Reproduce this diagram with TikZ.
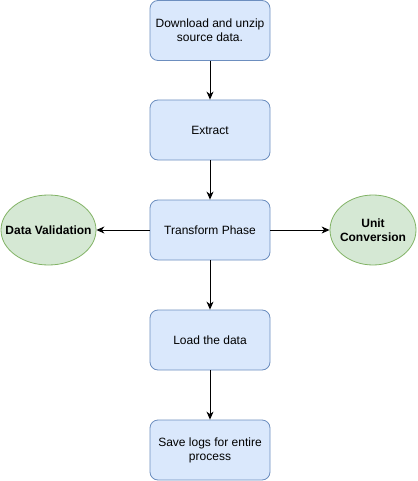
\documentclass[tikz,border=0pt]{standalone}
\usepackage{fontspec}
\setmainfont{Liberation Sans}
\usetikzlibrary{arrows.meta,shapes.geometric}
\definecolor{bfill}{HTML}{DAE8FC}
\definecolor{bdraw}{HTML}{6C8EBF}
\definecolor{gfill}{HTML}{D5E8D4}
\definecolor{gdraw}{HTML}{82B366}
\tikzset{
  x=1pt,y=-1pt,
  stepbox/.style={draw=bdraw,fill=bfill,rounded corners=8pt,minimum width=120pt,minimum height=60pt,align=center,font=\fontsize{12pt}{14pt}\selectfont,inner sep=2pt,line width=0.8pt},
  oval/.style={ellipse,draw=gdraw,fill=gfill,minimum width=95pt,minimum height=70pt,inner sep=0pt,line width=0.8pt},
  ovaltext/.style={align=center,font=\fontsize{12pt}{14pt}\selectfont\bfseries,inner sep=0pt},
  conn/.style={-{Stealth[length=8pt,width=7pt,inset=2.5pt]},line width=1pt}
}
\begin{document}
\begin{tikzpicture}
\useasboundingbox (0,0) rectangle (417,481);
\node[stepbox] (a) at (210,30.5) {Download and unzip\\source data.};
\node[stepbox] (b) at (210,130) {Extract};
\node[stepbox] (c) at (210,230) {Transform Phase};
\node[stepbox] (d) at (210,340) {Load the data};
\node[stepbox] (e) at (210,450) {Save logs for entire\\process};
\node[oval] (l) at (48.5,230) {};
\node[ovaltext] (lt) at (l.center) {Data Validation};
\node[oval,minimum width=86pt] (r) at (373,230) {};
\node[ovaltext] (rt) at (r.center) {Unit\\Conversion};
\draw[conn] (a) -- (b);
\draw[conn] (b) -- (c);
\draw[conn] (c) -- (d);
\draw[conn] (d) -- (e);
\draw[conn] (c) -- (l);
\draw[conn] (c) -- (r);
\end{tikzpicture}
\end{document}
